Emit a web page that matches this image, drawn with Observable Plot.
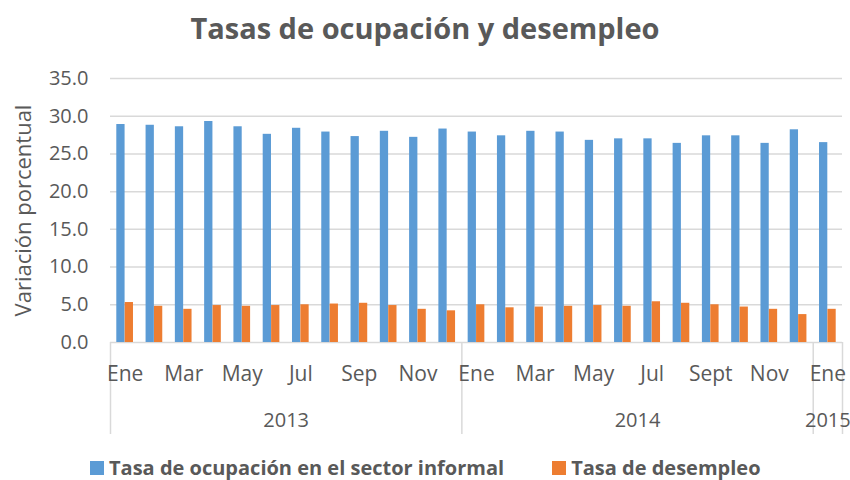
<!DOCTYPE html>
<html>
<head>
<meta charset="utf-8">
<script src="https://cdn.jsdelivr.net/npm/d3@7"></script>
<script src="https://cdn.jsdelivr.net/npm/@observablehq/plot@0.6"></script>
<style>
  html, body { margin: 0; padding: 0; background: #fff; }
  body { width: 850px; height: 480px; font-family: "Open Sans", sans-serif; color: #595959; overflow: hidden; }
  #title { height: 55px; line-height: 55px; text-align: center; font-size: 29px; font-weight: 700; }
  #chart svg { display: block; }
  #legend { position: absolute; left: 0; top: 454px; height: 28px; line-height: 28px; display: flex; align-items: center; font-size: 20px; font-weight: 700; padding-left: 90px; }
  .sw { width: 14px; height: 14px; display: inline-block; margin-right: 5px; }
  .item { display: flex; align-items: center; }
</style>
</head>
<body>
<div id="title">Tasas de ocupación y desempleo</div>
<div id="chart"></div>
<div id="legend"></div>
<script>
// Categories
const months = ["Ene","Feb","Mar","Abr","May","Jun","Jul","Ago","Sep","Oct","Nov","Dic",
                "Ene","Feb","Mar","Abr","May","Jun","Jul","Ago","Sept","Oct","Nov","Dic",
                "Ene"];
const years = ["2013","2013","2013","2013","2013","2013","2013","2013","2013","2013","2013","2013",
               "2014","2014","2014","2014","2014","2014","2014","2014","2014","2014","2014","2014",
               "2015"];
// Series values
const informal = [28.9,28.8,28.6,29.3,28.6,27.6,28.4,27.9,27.3,28.0,27.2,28.3,
                  27.9,27.4,28.0,27.9,26.8,27.0,27.0,26.4,27.4,27.4,26.4,28.2,
                  26.5];
const desempleo = [5.3,4.8,4.4,4.9,4.8,4.9,5.0,5.1,5.2,4.9,4.4,4.2,
                   5.0,4.6,4.7,4.8,4.9,4.8,5.4,5.2,5.0,4.7,4.4,3.7,
                   4.4];
// Tick labels
const yTicks = [0,5,10,15,20,25,30,35];
const seriesNames = ["Tasa de ocupación en el sector informal", "Tasa de desempleo"];
const colors = ["#5B9BD5", "#ED7D31"];

const idx = months.map((m, i) => i);
const rowsA = idx.map(i => ({i, value: informal[i]}));
const rowsB = idx.map(i => ({i, value: desempleo[i]}));
const monthTicks = idx.filter(i => i % 2 === 0);
const yearGroups = Array.from(d3.group(idx, i => years[i]), ([year, is]) => ({year, start: d3.min(is), end: d3.max(is) + 1}));
const boundaries = [...yearGroups.map(g => g.start), idx.length];

const chart = Plot.plot({
  width: 850,
  height: 385,
  marginTop: 23,
  marginBottom: 98,
  marginLeft: 110,
  marginRight: 8,
  style: {fontFamily: "Open Sans, sans-serif", fontSize: "20px", color: "#595959", background: "#fff", overflow: "visible"},
  x: {domain: [0, months.length], axis: null},
  y: {domain: [0, 35], ticks: yTicks, tickFormat: d3.format(".1f"), tickSize: 0, tickPadding: 22, label: null},
  marks: [
    Plot.ruleY(yTicks, {stroke: "#d9d9d9", strokeWidth: 1.5}),
    Plot.rectY(rowsA, {x: "i", interval: 1, y: "value", fill: colors[0], insetLeft: 6.3, insetRight: 14.7}),
    Plot.rectY(rowsB, {x: "i", interval: 1, y: "value", fill: colors[1], insetLeft: 14.7, insetRight: 6.3}),
    Plot.ruleX(boundaries, {x: d => d, stroke: "#d9d9d9", strokeWidth: 1.5, insetTop: 264, insetBottom: -92}),
    Plot.text(monthTicks, {x: i => i + 0.5, frameAnchor: "bottom", dy: 32, text: i => months[i], fill: "#595959", fontSize: 21, lineAnchor: "middle"}),
    Plot.text(yearGroups, {x: g => (g.start + g.end) / 2, frameAnchor: "bottom", dy: 78, text: "year", fill: "#595959", fontSize: 20, lineAnchor: "middle"}),
    Plot.text(["Variación porcentual"], {frameAnchor: "left", rotate: -90, dx: -87, text: d => d, fill: "#595959", fontSize: 22, textAnchor: "middle", lineAnchor: "middle"})
  ]
});
document.getElementById("chart").appendChild(chart);

const legend = document.getElementById("legend");
seriesNames.forEach((name, k) => {
  const item = document.createElement("div");
  item.className = "item";
  if (k > 0) item.style.marginLeft = "48px";
  const sw = document.createElement("span");
  sw.className = "sw";
  sw.style.background = colors[k];
  item.appendChild(sw);
  item.appendChild(document.createTextNode(name));
  legend.appendChild(item);
});
</script>
</body>
</html>
